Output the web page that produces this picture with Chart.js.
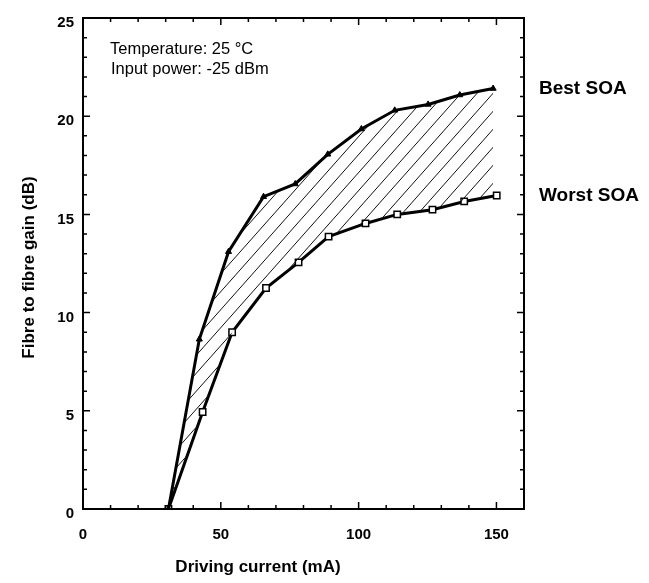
<!DOCTYPE html>
<html>
<head>
<meta charset="utf-8">
<script src="https://cdn.jsdelivr.net/npm/chart.js@4.4.0/dist/chart.umd.min.js"></script>
<style>
  html, body { margin: 0; padding: 0; background: #fff; }
  #wrap { width: 649px; height: 583px; }
</style>
</head>
<body>
<div id="wrap"><canvas id="chart" width="649" height="583"></canvas></div>
<script>
// values
const bestCurrent  = [31, 42.2, 52.8, 65.5, 77, 88.8, 101, 113.1, 125.2, 136.7, 148.8];
const bestGain     = [0, 8.64, 13.1, 15.9, 16.55, 18.06, 19.35, 20.3, 20.6, 21.08, 21.41];
const worstCurrent = [31, 43.4, 54.1, 66.4, 78.2, 89.1, 102.5, 114, 126.8, 138.3, 150.1];
const worstGain    = [0, 4.94, 9.0, 11.25, 12.56, 13.87, 14.54, 15.0, 15.24, 15.66, 15.96];

const xTicks = [0, 50, 100, 150];
const yTicks = [0, 5, 10, 15, 20, 25];
const seriesNames = ['Best SOA', 'Worst SOA'];
const notes = ['Temperature: 25 °C', 'Input power: -25 dBm'];
const xTitle = 'Driving current (mA)';
const yTitle = 'Fibre to fibre gain (dB)';

const FONT = '"Liberation Sans", Arial, Helvetica, sans-serif';

// diagonal hatching for the band between the two curves
function hatch() {
  const c = document.createElement('canvas');
  c.width = 16; c.height = 18;
  const g = c.getContext('2d');
  g.strokeStyle = '#111';
  g.lineWidth = 1;
  g.beginPath();
  g.moveTo(0, 18); g.lineTo(16, 0);
  g.moveTo(-4, 4.5); g.lineTo(4, -4.5);
  g.moveTo(12, 22.5); g.lineTo(20, 13.5);
  g.stroke();
  return g.createPattern(c, 'repeat');
}

const toPts = (xs, ys) => xs.map((x, i) => ({ x: x, y: ys[i] }));

// frame, inward ticks and all the free text
const decor = {
  id: 'decor',
  afterDraw(chart) {
    const { ctx, chartArea: a, scales } = chart;
    const xs = scales.x, ys = scales.y;
    ctx.save();
    ctx.strokeStyle = '#000';
    ctx.lineWidth = 2;
    ctx.strokeRect(a.left, a.top, a.right - a.left, a.bottom - a.top);

    ctx.lineWidth = 1.5;
    ctx.beginPath();
    for (let v = 0; v <= 160; v += 10) {
      const px = xs.getPixelForValue(v);
      const len = v % 50 === 0 ? 7 : 4;
      ctx.moveTo(px, a.bottom); ctx.lineTo(px, a.bottom - len);
      ctx.moveTo(px, a.top); ctx.lineTo(px, a.top + len);
    }
    for (let v = 0; v <= 25; v += 1) {
      const py = ys.getPixelForValue(v);
      const len = v % 5 === 0 ? 7 : 4;
      ctx.moveTo(a.left, py); ctx.lineTo(a.left + len, py);
      ctx.moveTo(a.right, py); ctx.lineTo(a.right - len, py);
    }
    ctx.stroke();

    ctx.fillStyle = '#000';
    // axis titles
    ctx.font = 'bold 17px ' + FONT;
    ctx.textAlign = 'center';
    ctx.textBaseline = 'alphabetic';
    ctx.fillText(xTitle, a.left + 175, a.bottom + 63);
    ctx.save();
    ctx.translate(a.left - 54, (a.top + a.bottom) / 2 + 4);
    ctx.rotate(-Math.PI / 2);
    ctx.textBaseline = 'middle';
    ctx.fillText(yTitle, 0, 0);
    ctx.restore();

    // conditions note
    ctx.font = '16.5px ' + FONT;
    ctx.textAlign = 'left';
    ctx.fillText(notes[0], a.left + 27, a.top + 36);
    ctx.fillText(notes[1], a.left + 28, a.top + 56);

    // series labels next to the last point of each curve
    ctx.font = 'bold 19px ' + FONT;
    ctx.textBaseline = 'middle';
    ctx.fillText(seriesNames[0], a.right + 15, ys.getPixelForValue(bestGain[bestGain.length - 1]));
    ctx.fillText(seriesNames[1], a.right + 15, ys.getPixelForValue(worstGain[worstGain.length - 1]));
    ctx.restore();
  }
};

const ctx = document.getElementById('chart').getContext('2d');
new Chart(ctx, {
  type: 'line',
  data: {
    datasets: [
      {
        label: seriesNames[0],
        data: toPts(bestCurrent, bestGain),
        borderColor: '#000',
        borderWidth: 3,
        backgroundColor: hatch(),
        fill: '+1',
        tension: 0,
        pointStyle: 'triangle',
        pointRadius: 3.5,
        pointBackgroundColor: '#000',
        pointBorderColor: '#000',
        pointBorderWidth: 1
      },
      {
        label: seriesNames[1],
        data: toPts(worstCurrent, worstGain),
        borderColor: '#000',
        borderWidth: 3,
        fill: false,
        tension: 0,
        pointStyle: 'rect',
        pointRadius: 4.5,
        pointBackgroundColor: '#fff',
        pointBorderColor: '#000',
        pointBorderWidth: 1.5
      }
    ]
  },
  options: {
    responsive: false,
    animation: false,
    events: [],
    layout: { padding: { left: 0, right: 125, top: 12, bottom: 0 } },
    plugins: {
      legend: { display: false },
      tooltip: { enabled: false }
    },
    scales: {
      x: {
        type: 'linear',
        min: 0,
        max: 160,
        afterBuildTicks: s => { s.ticks = xTicks.map(v => ({ value: v })); },
        afterFit: s => { s.height = 74; },
        grid: { display: false, drawTicks: false },
        border: { display: false },
        ticks: {
          color: '#000',
          padding: 17,
          maxRotation: 0,
          font: { family: FONT, size: 15, weight: 'bold' }
        }
      },
      y: {
        type: 'linear',
        min: 0,
        max: 25,
        afterBuildTicks: s => { s.ticks = yTicks.map(v => ({ value: v })); },
        afterFit: s => { s.width = 83; },
        grid: { display: false, drawTicks: false },
        border: { display: false },
        ticks: {
          color: '#000',
          padding: 9,
          labelOffset: 5,
          font: { family: FONT, size: 15, weight: 'bold' }
        }
      }
    }
  },
  plugins: [decor]
});
</script>
</body>
</html>
